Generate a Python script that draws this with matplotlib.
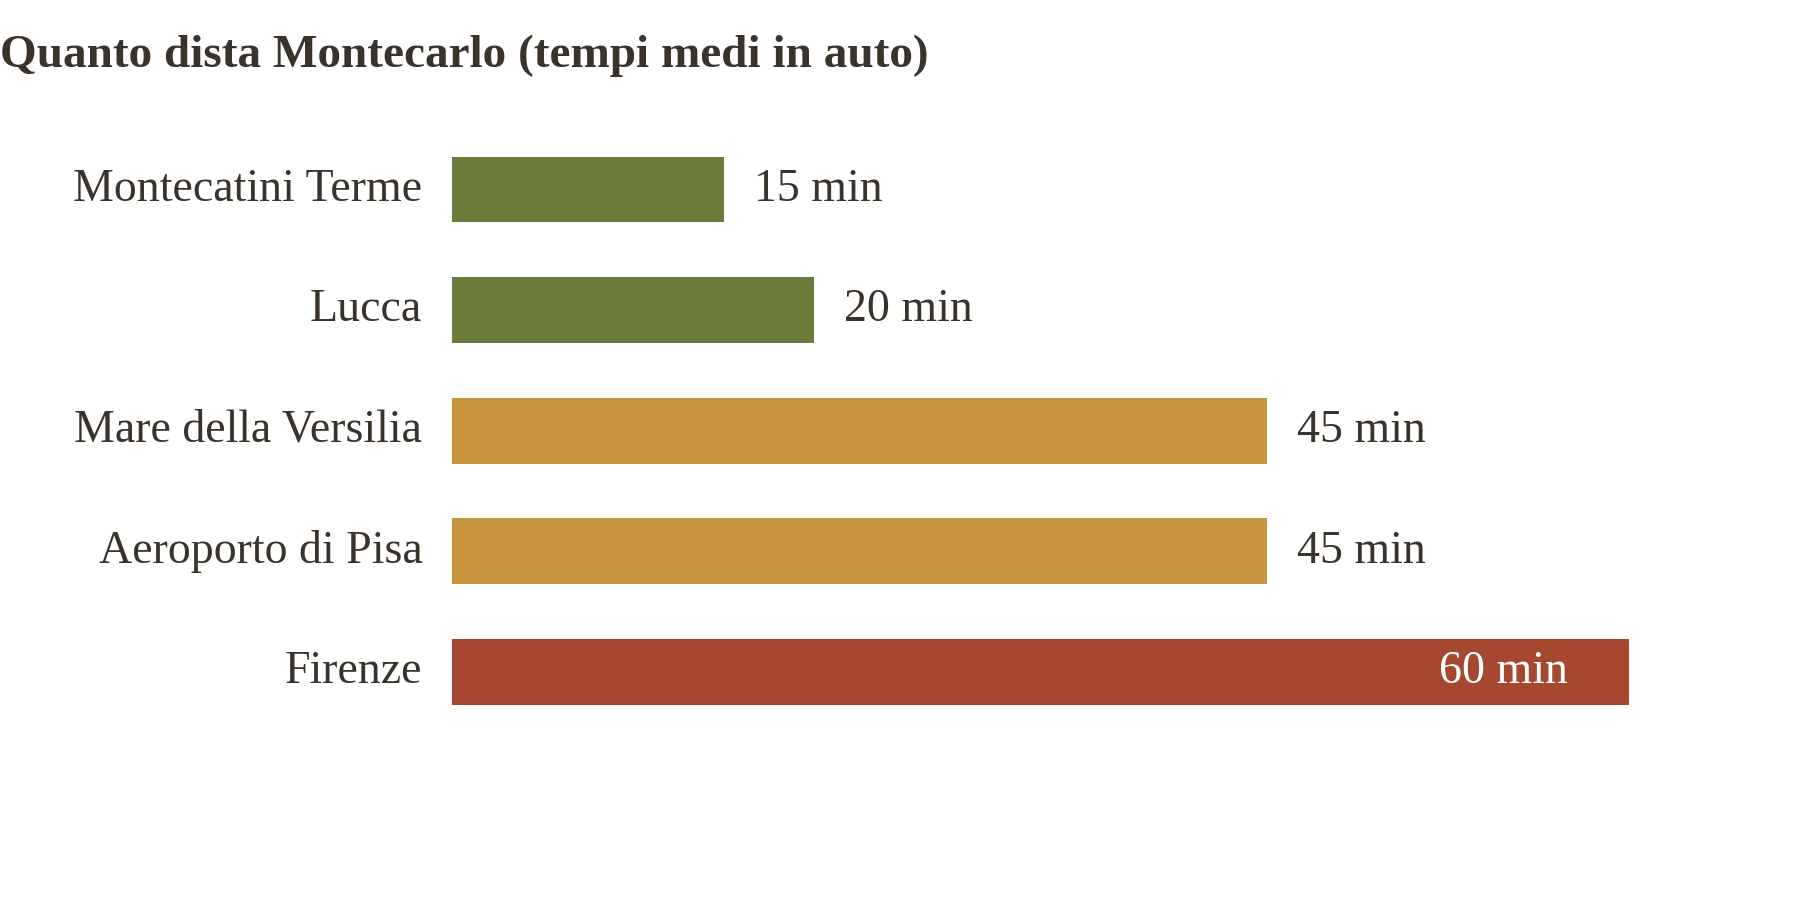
import matplotlib
matplotlib.use("Agg")
import matplotlib.pyplot as plt

categories = ["Montecatini Terme", "Lucca", "Mare della Versilia", "Aeroporto di Pisa", "Firenze"]
values = [15, 20, 45, 45, 65]
value_labels = ["15 min", "20 min", "45 min", "45 min", "60 min"]
colors = ["#6b7c3a", "#6b7c3a", "#c8963f", "#c8963f", "#a6472f"]
text_color = "#3a332b"

plt.rcParams["font.family"] = ["Liberation Serif", "DejaVu Serif"]
fig = plt.figure(figsize=(18, 9), dpi=100)
ax = fig.add_axes([392/1560, 0, 1 - 392/1560, 1])
ppm = 15.69  # ref px per minute
ax.set_xlim(0, (1560 - 392) / ppm)
ax.set_ylim(-1.57 + 7.46, -1.57)
ax.axis("off")

ys = list(range(len(categories)))
ax.barh(ys, values, height=0.545, color=colors)
for y, v, lab, cat in zip(ys, values, value_labels, categories):
    ax.text(-26/ppm, y, cat, ha="right", va="center", fontsize=33, color=text_color)
    if v >= 60:
        ax.text(v - 53/ppm, y, lab, ha="right", va="center", fontsize=33, color="white")
    else:
        ax.text(v + 26/ppm, y, lab, ha="left", va="center", fontsize=33, color=text_color)

fig.text(0.0, 1 - 48/780, "Quanto dista Montecarlo (tempi medi in auto)", ha="left", va="center",
         fontsize=34, fontweight="bold", color=text_color)
fig.savefig("out.png", dpi=100, facecolor="white")
